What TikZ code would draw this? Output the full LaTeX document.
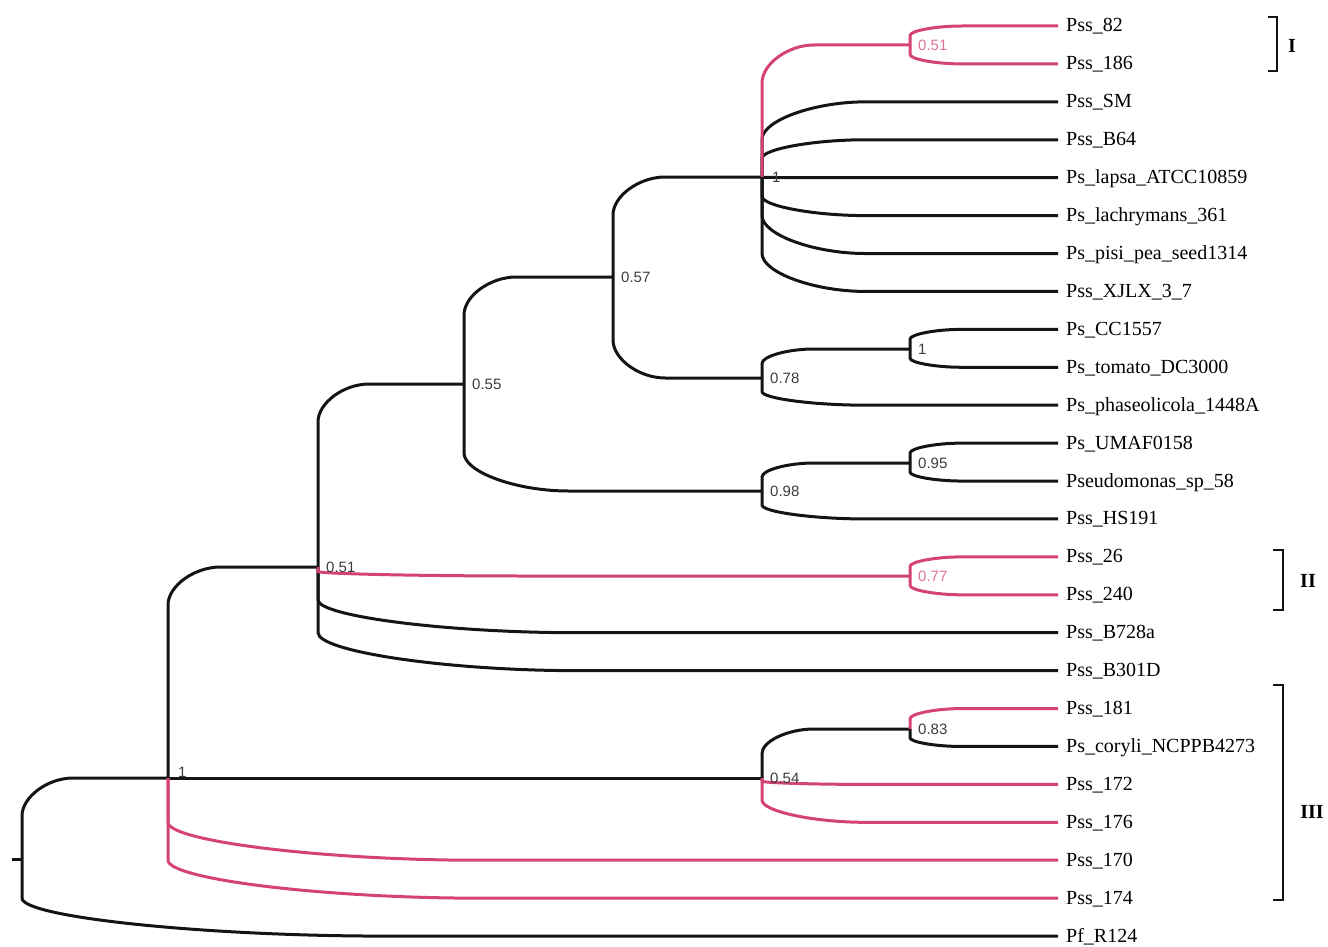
\documentclass[tikz,border=0pt]{standalone}
\usepackage{fontspec}
\setmainfont{Liberation Serif}
\newfontfamily\bsfont{Liberation Sans}
\usetikzlibrary{calc}
\definecolor{cladepink}{RGB}{212,66,118}
\definecolor{bspink}{RGB}{224,112,150}
\definecolor{bsgray}{RGB}{60,60,60}
\definecolor{treeblack}{RGB}{20,20,20}

\begin{document}
\begin{tikzpicture}[x=1pt, y=-1pt]
        \tikzstyle{branch}=[line width=3pt, draw=treeblack, to path={let \p1=(\tikztostart), \p2=(\tikztotarget),
            \n1={min(0.5*abs(\y2-\y1),38pt)}, \n2={(\y2>\y1)?1:-1}, \n3={0.35*(\x2-\x1)} in
            -- (\x1,{\y2-\n2*\n1}) .. controls (\x1,{\y2-0.5*\n2*\n1}) and ({\x1+0.5*\n3},\y2) .. ({\x1+\n3},\y2) -- (\tikztotarget)}]
        \tikzstyle{pinkbranch}=[branch, draw=cladepink]
        \tikzstyle{leaf}=[anchor=west, inner sep=0pt, inner xsep=8pt, text height=15pt, text depth=3pt, font=\fontsize{20}{20}\selectfont]
        \tikzstyle{bs}=[anchor=west, inner sep=0pt, xshift=8pt, text=bsgray, font=\bsfont\fontsize{15}{15}\selectfont]
        \tikzstyle{bracket}=[line width=1.8pt, draw=treeblack]
        \tikzstyle{roman}=[inner sep=0pt, font=\bfseries\fontsize{20}{20}\selectfont]

        \useasboundingbox (0,0) rectangle (1328,947);

        % Leaves
        \foreach \name [count=\i] in {Pss\_82, Pss\_186, Pss\_SM, Pss\_B64, Ps\_lapsa\_ATCC10859,
            Ps\_lachrymans\_361, Ps\_pisi\_pea\_seed1314, Pss\_XJLX\_3\_7, Ps\_CC1557, Ps\_tomato\_DC3000,
            Ps\_phaseolicola\_1448A, Ps\_UMAF0158, Pseudomonas\_sp\_58, Pss\_HS191, Pss\_26, Pss\_240,
            Pss\_B728a, Pss\_B301D, Pss\_181, Ps\_coryli\_NCPPB4273, Pss\_172, Pss\_176, Pss\_170,
            Pss\_174, Pf\_R124}
            \node[leaf] (L\i) at (1058,{26+(\i-1)*37.92}) {\name};

        % Internal nodes
        \coordinate (stub) at (12,859);
        \coordinate (root) at (22,859);
        \coordinate (n1) at (168,778);
        \coordinate (n051) at (318,567);
        \coordinate (n055) at (464,384);
        \coordinate (n057) at (613,277);
        \coordinate (m1) at (762,177);
        \coordinate (n051t) at (910,45);
        \coordinate (n078) at (762,378);
        \coordinate (n1b) at (910,349);
        \coordinate (n098) at (762,491);
        \coordinate (n095) at (910,463);
        \coordinate (n077) at (910,576);
        \coordinate (n054) at (762,778);
        \coordinate (n083) at (910,729);

        % Black branches
        \draw[branch] (stub) -- (root);
        \draw[branch] (root) to (n1);
        \draw[branch] (root) to (L25.west);
        \draw[branch] (n1) to (n051);
        \draw[branch] (n1) to (n054);
        \draw[branch] (n051) to (n055);
        \draw[branch] (n051) to (L17.west);
        \draw[branch] (n051) to (L18.west);
        \draw[branch] (n055) to (n057);
        \draw[branch] (n055) to (n098);
        \draw[branch] (n057) to (m1);
        \draw[branch] (n057) to (n078);
        \foreach \i in {3,...,8}
            \draw[branch] (m1) to (L\i.west);
        \draw[branch] (n078) to (n1b);
        \draw[branch] (n078) to (L11.west);
        \draw[branch] (n1b) to (L9.west);
        \draw[branch] (n1b) to (L10.west);
        \draw[branch] (n098) to (n095);
        \draw[branch] (n098) to (L14.west);
        \draw[branch] (n095) to (L12.west);
        \draw[branch] (n095) to (L13.west);
        \draw[branch] (n054) to (n083);
        \draw[branch] (n083) to (L20.west);

        % Clade I
        \draw[pinkbranch] (m1) to (n051t);
        \draw[pinkbranch] (n051t) to (L1.west);
        \draw[pinkbranch] (n051t) to (L2.west);
        % Clade II
        \draw[pinkbranch] (n051) to (n077);
        \draw[pinkbranch] (n077) to (L15.west);
        \draw[pinkbranch] (n077) to (L16.west);
        % Clade III
        \draw[pinkbranch] (n083) to (L19.west);
        \draw[pinkbranch] (n054) to (L21.west);
        \draw[pinkbranch] (n054) to (L22.west);
        \draw[pinkbranch] (n1) to (L23.west);
        \draw[pinkbranch] (n1) to (L24.west);

        % Support values
        \node[bs, text=bspink] (s051t) at (n051t) {0.51};
        \node[bs, xshift=2pt] (sm1) at (m1) {1};
        \node[bs] (s057) at (n057) {0.57};
        \node[bs] (s078) at (n078) {0.78};
        \node[bs] (s1b) at (n1b) {1};
        \node[bs] (s098) at (n098) {0.98};
        \node[bs] (s095) at (n095) {0.95};
        \node[bs] (s055) at (n055) {0.55};
        \node[bs] (s051) at (n051) {0.51};
        \node[bs, text=bspink] (s077) at (n077) {0.77};
        \node[bs] (s054) at (n054) {0.54};
        \node[bs] (s083) at (n083) {0.83};
        \node[bs, anchor=south west, xshift=2pt] (s1) at (n1) {1};

        % Clade brackets
        \draw[bracket] (1268,17) -- (1277,17) -- (1277,71) -- (1268,71);
        \node[roman] (cI) at (1292,46) {I};
        \draw[bracket] (1273,550) -- (1283,550) -- (1283,610) -- (1273,610);
        \node[roman] (cII) at (1308,581) {II};
        \draw[bracket] (1273,685) -- (1283,685) -- (1283,900) -- (1273,900);
        \node[roman] (cIII) at (1312,812) {III};
    \end{tikzpicture}
\end{document}
